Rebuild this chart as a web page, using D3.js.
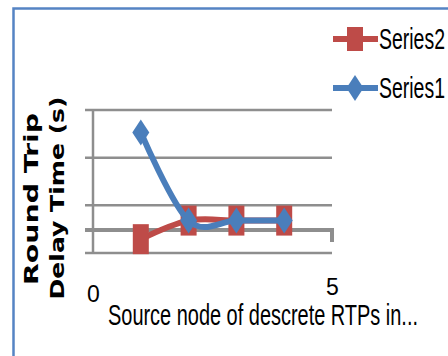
<!DOCTYPE html>
<html><head><meta charset="utf-8">
<script src="https://cdn.jsdelivr.net/npm/d3@7"></script>
<style>html,body{margin:0;padding:0;background:#fff;overflow:hidden}</style>
</head><body>
<script>
const categories = [1, 2, 3, 4];
const series1 = [2.53, 0.68, 0.68, 0.68];
const series2 = [0.29, 0.68, 0.68, 0.68];
const xTicks = [0, 5];
const yGrid = [0, 1, 2, 3];
const axisCross = 0.48;
const titleText = "Average Round Trip Delay Time of Source Node by Delay";
const xTitle = "Source node of descrete RTPs in...";
const yTitle = ["Round Trip", "Delay Time (s)"];
const legendNames = ["Series2", "Series1"];

const W = 448, H = 356;
const svg = d3.select("body").append("svg").attr("width", W).attr("height", H);
svg.append("rect").attr("width", W).attr("height", H).attr("fill", "#fff");

const x = d3.scaleLinear().domain([0, 5]).range([93, 332]);
const y = d3.scaleLinear().domain([0, 3]).range([253, 110]);

const blue = "#4a7ebb", red = "#be4b48", grid = "#8e8e8e";
const narrow = "Liberation Sans Narrow, Liberation Sans, Arial";

// partial title at top (clipped in the reference)
svg.append("text").attr("x", 235).attr("y", -3).attr("text-anchor", "middle")
  .attr("font-family", "Liberation Sans, Arial").attr("font-size", 17).attr("font-weight", "bold")
  .attr("fill", "#000").text(titleText);

// chart border
svg.append("rect").attr("x", 13.5).attr("y", 8.5).attr("width", 600).attr("height", 500)
  .attr("fill", "none").attr("stroke", "#5584c4").attr("stroke-width", 2.5);

// gridlines
svg.append("g").selectAll("line").data(yGrid).join("line")
  .attr("x1", 85).attr("x2", x(5)).attr("y1", d => y(d)).attr("y2", d => y(d))
  .attr("stroke", grid).attr("stroke-width", 2.5);

// vertical axis
svg.append("line").attr("x1", x(0)).attr("x2", x(0)).attr("y1", y(3)).attr("y2", y(0))
  .attr("stroke", grid).attr("stroke-width", 2.5);

// horizontal axis crossing (thick)
svg.append("path")
  .attr("d", `M85,${y(axisCross)}H${x(5)}V${y(axisCross) + 12}`)
  .attr("fill", "none").attr("stroke", grid).attr("stroke-width", 4);

// x tick labels via axis
const xAxis = d3.axisBottom(x).tickValues(xTicks).tickFormat(d3.format("d")).tickSize(0).tickPadding(0);
const gx = svg.append("g").attr("transform", "translate(0,286)").call(xAxis);
gx.select(".domain").remove();
gx.selectAll("text").attr("font-family", narrow)
  .attr("font-size", 23).attr("fill", "#000").attr("dy", "0.71em");
gx.selectAll(".tick").filter(d => d === 5).select("text").attr("dy", "0.4em");

// lines
const line = d3.line().x((d, i) => x(categories[i])).y(d => y(d)).curve(d3.curveCatmullRom.alpha(0));

svg.append("path").datum(series2).attr("d", line).attr("fill", "none")
  .attr("stroke", red).attr("stroke-width", 6).attr("stroke-linejoin", "round");
svg.append("g").selectAll("rect").data(series2).join("rect")
  .attr("x", (d, i) => x(categories[i]) - 8).attr("y", d => y(d) - 15)
  .attr("width", 16).attr("height", 30).attr("fill", red);

svg.append("path").datum(series1).attr("d", line).attr("fill", "none")
  .attr("stroke", blue).attr("stroke-width", 6).attr("stroke-linejoin", "round");
const diamond = (cx, cy) => `M${cx},${cy - 13}L${cx + 8.5},${cy}L${cx},${cy + 13}L${cx - 8.5},${cy}Z`;
svg.append("g").selectAll("path").data(series1).join("path")
  .attr("d", (d, i) => diamond(x(categories[i]), y(d))).attr("fill", blue);

// axis titles
svg.append("text").attr("transform", "translate(38,199) rotate(-90)").attr("text-anchor", "middle")
  .attr("font-family", "DejaVu Sans, Verdana").attr("font-weight", "bold").attr("font-size", 20)
  .attr("textLength", 172).attr("lengthAdjust", "spacingAndGlyphs").attr("fill", "#000").text(yTitle[0]);
svg.append("text").attr("transform", "translate(64,198) rotate(-90)").attr("text-anchor", "middle")
  .attr("font-family", "DejaVu Sans, Verdana").attr("font-weight", "bold").attr("font-size", 20)
  .attr("textLength", 203).attr("lengthAdjust", "spacingAndGlyphs").attr("fill", "#000").text(yTitle[1]);

svg.append("text").attr("x", 108).attr("y", 325)
  .attr("font-family", narrow).attr("font-size", 30)
  .attr("textLength", 310).attr("lengthAdjust", "spacingAndGlyphs").attr("fill", "#000").text(xTitle);

// legend
const legY = [39, 88];
const leg = svg.append("g");
legendNames.forEach((name, i) => {
  const cy = legY[i];
  const col = i === 0 ? red : blue;
  leg.append("line").attr("x1", 333).attr("x2", 378).attr("y1", cy).attr("y2", cy)
    .attr("stroke", col).attr("stroke-width", 6);
  if (i === 0) {
    leg.append("rect").attr("x", 347).attr("y", cy - 12).attr("width", 16).attr("height", 24).attr("fill", col);
  } else {
    leg.append("path").attr("d", diamond(355, cy)).attr("fill", col);
  }
  leg.append("text").attr("x", 379).attr("y", cy + 10)
    .attr("font-family", narrow).attr("font-size", 29)
    .attr("textLength", 66).attr("lengthAdjust", "spacingAndGlyphs").attr("fill", "#000").text(name);
});
</script>
</body></html>
